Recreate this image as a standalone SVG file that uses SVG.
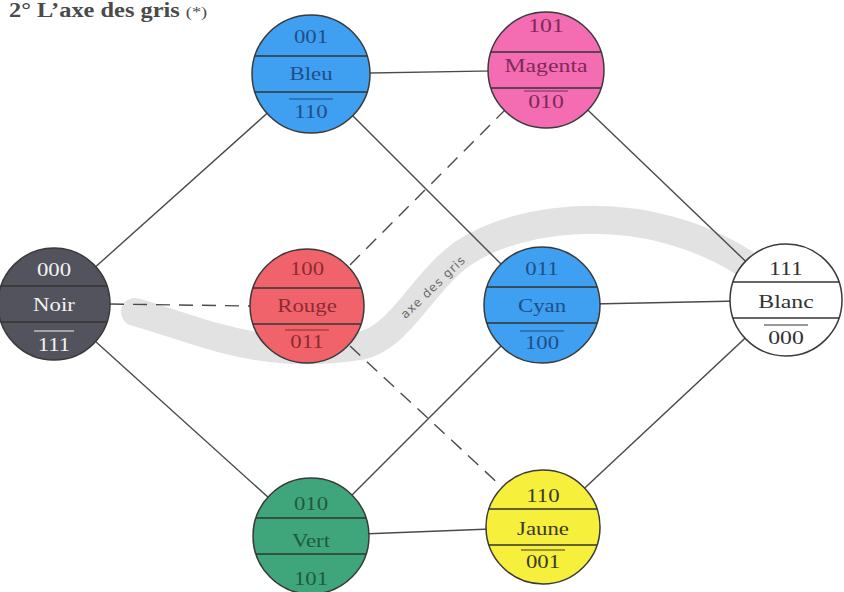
<svg xmlns="http://www.w3.org/2000/svg" width="844" height="592" viewBox="0 0 844 592">
<defs>
<style>
.edge{stroke:#4a4a4a;stroke-width:1.4;fill:none}
.dash{stroke-dasharray:14 9}
.node circle{stroke:#3a3a3a;stroke-width:1.5}
.chord{stroke:#333;stroke-width:1.4}
.bar{stroke-width:1.2}
.t{font-family:"Liberation Serif","DejaVu Serif",serif;font-size:19px;text-anchor:middle}
</style>
</defs>
<rect width="844" height="592" fill="#ffffff"/>
<text transform="translate(9 17) scale(1.22 1)" font-family="Liberation Serif, serif" font-weight="bold" font-size="20" fill="#4a4a4a">2° L’axe des gris <tspan font-weight="normal" font-size="15">(*)</tspan></text>

<g id="band">
<path d="M 135 312 C 200 330, 260 362, 360 346 C 400 338, 420 285, 462 254 C 520 214, 650 198, 752 268" fill="none" stroke="#e2e2e2" stroke-width="28" stroke-linecap="round"/>
<text x="0" y="0" transform="translate(436 290) rotate(-44)" font-family="DejaVu Sans, sans-serif" font-size="12" fill="#6a6a6a" text-anchor="middle" letter-spacing="1">axe des gris</text>
</g>

<g id="connectors">
<line class="edge" x1="54" y1="304" x2="311" y2="74"/>
<line class="edge" x1="54" y1="304" x2="311" y2="536"/>
<line class="edge" x1="311" y1="74" x2="546" y2="70"/>
<line class="edge" x1="311" y1="74" x2="542" y2="305"/>
<line class="edge" x1="546" y1="70" x2="786" y2="300"/>
<line class="edge" x1="542" y1="305" x2="786" y2="300"/>
<line class="edge" x1="311" y1="536" x2="542" y2="305"/>
<line class="edge" x1="311" y1="536" x2="543" y2="527"/>
<line class="edge" x1="543" y1="527" x2="786" y2="300"/>
<line class="edge dash" x1="110" y1="304" x2="250" y2="306"/>
<line class="edge dash" x1="350" y1="265" x2="505" y2="110"/>
<line class="edge dash" x1="350" y1="346" x2="502" y2="487"/>
</g>

<g id="noir" class="node" transform="translate(54 304)">
<circle r="56" fill="#53535d"/>
<line class="chord" x1="-53" y1="-18" x2="53" y2="-18" stroke="#ddd"/>
<line class="chord" x1="-53" y1="18" x2="53" y2="18" stroke="#ddd"/>
<g fill="#f2f2f2" class="t" transform="scale(1.2 1)"><text y="-28">000</text><text y="7">Noir</text><text y="47">111</text></g>
<line class="bar" x1="-20" y1="27" x2="20" y2="27" stroke="#f2f2f2"/>
</g>

<g id="bleu" class="node" transform="translate(311 74)">
<circle r="59" fill="#3f9ff0"/>
<line class="chord" x1="-56" y1="-18" x2="56" y2="-18"/>
<line class="chord" x1="-56" y1="18" x2="56" y2="18"/>
<g fill="#1f4f88" class="t" transform="scale(1.2 1)"><text y="-31">001</text><text y="6">Bleu</text><text y="44">110</text></g>
<line class="bar" x1="-22" y1="25" x2="22" y2="25" stroke="#1f4f88"/>
</g>

<g id="magenta" class="node" transform="translate(546 70)">
<circle r="58" fill="#f46db3"/>
<line class="chord" x1="-55" y1="-18" x2="55" y2="-18"/>
<line class="chord" x1="-55" y1="18" x2="55" y2="18"/>
<g fill="#7d2a57" class="t" transform="scale(1.25 1)"><text y="-38">101</text><text y="2">Magenta</text><text y="38">010</text></g>
<line class="bar" x1="-22" y1="21" x2="22" y2="21" stroke="#7d2a57"/>
</g>

<g id="rouge" class="node" transform="translate(307 306)">
<circle r="57" fill="#f1636b"/>
<line class="chord" x1="-54" y1="-18" x2="54" y2="-18"/>
<line class="chord" x1="-54" y1="18" x2="54" y2="18"/>
<g fill="#8c2b33" class="t" transform="scale(1.2 1)"><text y="-31">100</text><text y="6">Rouge</text><text y="42">011</text></g>
<line class="bar" x1="-22" y1="24" x2="22" y2="24" stroke="#8c2b33"/>
</g>

<g id="cyan" class="node" transform="translate(542 305)">
<circle r="58" fill="#3f9ff0"/>
<line class="chord" x1="-55" y1="-18" x2="55" y2="-18"/>
<line class="chord" x1="-55" y1="18" x2="55" y2="18"/>
<g fill="#1f4f88" class="t" transform="scale(1.2 1)"><text y="-30">011</text><text y="7">Cyan</text><text y="44">100</text></g>
<line class="bar" x1="-22" y1="26" x2="22" y2="26" stroke="#1f4f88"/>
</g>

<g id="blanc" class="node" transform="translate(786 300)">
<circle r="56" fill="#ffffff"/>
<line class="chord" x1="-53" y1="-18" x2="53" y2="-18"/>
<line class="chord" x1="-53" y1="18" x2="53" y2="18"/>
<g fill="#333" class="t" transform="scale(1.25 1)"><text y="-25">111</text><text y="8">Blanc</text><text y="44">000</text></g>
<line class="bar" x1="-22" y1="25" x2="22" y2="25" stroke="#333"/>
</g>

<g id="vert" class="node" transform="translate(311 536)">
<circle r="58" fill="#3fa67c"/>
<line class="chord" x1="-55" y1="-18" x2="55" y2="-18"/>
<line class="chord" x1="-55" y1="18" x2="55" y2="18"/>
<g fill="#1f5a40" class="t" transform="scale(1.2 1)"><text y="-26">010</text><text y="11">Vert</text><text y="49">101</text></g>
</g>

<g id="jaune" class="node" transform="translate(543 527)">
<circle r="57" fill="#f6ef3c"/>
<line class="chord" x1="-54" y1="-18" x2="54" y2="-18"/>
<line class="chord" x1="-54" y1="18" x2="54" y2="18"/>
<g fill="#3a3a2a" class="t" transform="scale(1.2 1)"><text y="-25">110</text><text y="8">Jaune</text><text y="41">001</text></g>
<line class="bar" x1="-22" y1="23" x2="22" y2="23" stroke="#3a3a2a"/>
</g>
</svg>
